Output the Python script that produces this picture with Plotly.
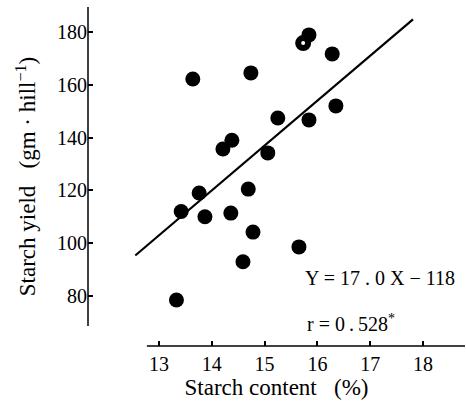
import plotly.graph_objects as go

# Data
starch_content = [13.33, 13.42, 13.64, 13.76, 13.87, 14.21, 14.38, 14.36, 14.59, 14.74,
                  14.69, 14.78, 15.06, 15.25, 15.65, 15.84, 15.84, 16.28, 16.35]
starch_yield = [78.5, 112.0, 162.2, 119.0, 110.0, 135.7, 139.0, 111.4, 93.0, 164.5,
                120.5, 104.2, 134.2, 147.4, 98.6, 146.7, 178.9, 171.7, 152.0]
open_content = [15.73]
open_yield = [175.8]

slope, intercept = 17.0, -118.0
line_x = [12.55, 17.81]
line_y = [slope * v + intercept for v in line_x]

x_ticks = [13, 14, 15, 16, 17, 18]
y_ticks = [80, 100, 120, 140, 160, 180]

FONT = "Liberation Serif"

fig = go.Figure()
fig.add_trace(go.Scatter(x=line_x, y=line_y, mode="lines",
                         line=dict(color="black", width=2.2), showlegend=False))
fig.add_trace(go.Scatter(x=starch_content, y=starch_yield, mode="markers",
                         marker=dict(color="black", size=15), showlegend=False))
fig.add_trace(go.Scatter(x=open_content, y=open_yield, mode="markers",
                         marker=dict(color="white", size=10, line=dict(color="black", width=6)),
                         showlegend=False))

x_range = [11.655, 18.795]
y_range = [61.06, 189.47]

fig.update_layout(
    width=466, height=415,
    margin=dict(l=88, r=1, t=7, b=69),
    paper_bgcolor="white", plot_bgcolor="white",
    font=dict(family=FONT, color="black", size=20),
    xaxis=dict(range=x_range, showgrid=False, zeroline=False, showline=False,
               tickvals=x_ticks, ticks="inside", ticklen=5, tickwidth=1.5, tickcolor="black",
               ticklabelstandoff=4, tickfont=dict(size=20),
               title=dict(text="Starch content\u2002 (%)", font=dict(size=23), standoff=3)),
    yaxis=dict(range=y_range, showgrid=False, zeroline=False, showline=False,
               tickvals=y_ticks, ticks="inside", ticklen=5, tickwidth=1.5, tickcolor="black",
               tickfont=dict(size=20),
               title=dict(text="Starch yield\u2002 (gm · hill<sup>−1</sup>)", font=dict(size=23), standoff=14)),
    shapes=[
        dict(type="line", xref="x", yref="paper", x0=12.77, x1=x_range[1], y0=0, y1=0,
             line=dict(color="black", width=1.5)),
        dict(type="line", xref="paper", yref="y", x0=0, x1=0, y0=68.6, y1=y_range[1],
             line=dict(color="black", width=1.5)),
    ],
    annotations=[
        dict(x=15.73, y=86.8, xref="x", yref="y", xanchor="left", yanchor="middle",
             text="Y = 17 . 0 X − 118", showarrow=False, font=dict(size=20)),
        dict(x=15.76, y=69.8, xref="x", yref="y", xanchor="left", yanchor="middle",
             text="r = 0\u2009.\u2009528<sup>*</sup>", showarrow=False, font=dict(size=20)),
    ],
)

fig.write_html("out.html")
